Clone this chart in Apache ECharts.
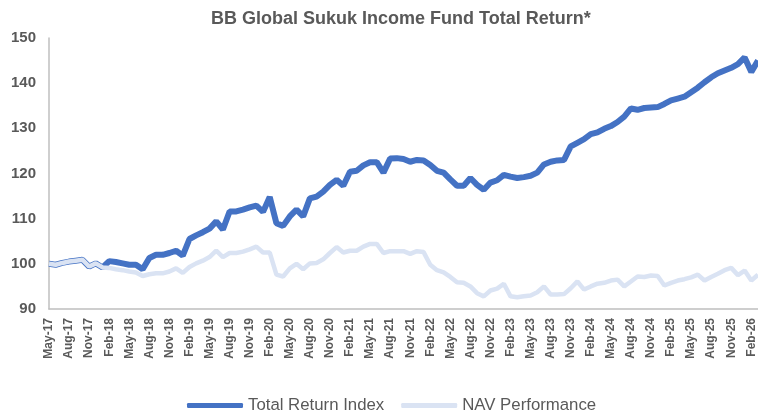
<!DOCTYPE html>
<html>
<head>
<meta charset="utf-8">
<script src="https://cdn.jsdelivr.net/npm/echarts@6/dist/echarts.min.js"></script>
<style>
  html, body { margin: 0; padding: 0; background: #fff; }
  #chart { width: 758px; height: 412px; }
</style>
</head>
<body>
<div id="chart"></div>
<script>
// month labels, May-17 .. Mar-26
const months = [
  'May-17', 'Jun-17', 'Jul-17', 'Aug-17', 'Sep-17', 'Oct-17', 'Nov-17', 'Dec-17',
  'Jan-18', 'Feb-18', 'Mar-18', 'Apr-18', 'May-18', 'Jun-18', 'Jul-18', 'Aug-18', 'Sep-18', 'Oct-18', 'Nov-18', 'Dec-18',
  'Jan-19', 'Feb-19', 'Mar-19', 'Apr-19', 'May-19', 'Jun-19', 'Jul-19', 'Aug-19', 'Sep-19', 'Oct-19', 'Nov-19', 'Dec-19',
  'Jan-20', 'Feb-20', 'Mar-20', 'Apr-20', 'May-20', 'Jun-20', 'Jul-20', 'Aug-20', 'Sep-20', 'Oct-20', 'Nov-20', 'Dec-20',
  'Jan-21', 'Feb-21', 'Mar-21', 'Apr-21', 'May-21', 'Jun-21', 'Jul-21', 'Aug-21', 'Sep-21', 'Oct-21', 'Nov-21', 'Dec-21',
  'Jan-22', 'Feb-22', 'Mar-22', 'Apr-22', 'May-22', 'Jun-22', 'Jul-22', 'Aug-22', 'Sep-22', 'Oct-22', 'Nov-22', 'Dec-22',
  'Jan-23', 'Feb-23', 'Mar-23', 'Apr-23', 'May-23', 'Jun-23', 'Jul-23', 'Aug-23', 'Sep-23', 'Oct-23', 'Nov-23', 'Dec-23',
  'Jan-24', 'Feb-24', 'Mar-24', 'Apr-24', 'May-24', 'Jun-24', 'Jul-24', 'Aug-24', 'Sep-24', 'Oct-24', 'Nov-24', 'Dec-24',
  'Jan-25', 'Feb-25', 'Mar-25', 'Apr-25', 'May-25', 'Jun-25', 'Jul-25', 'Aug-25', 'Sep-25', 'Oct-25', 'Nov-25', 'Dec-25',
  'Jan-26', 'Feb-26', 'Mar-26'
];

const totalReturn = [
  100.0, 99.8, 100.2, 100.5, 100.7, 100.9, 99.4, 100.1,
  99.2, 100.6, 100.4, 100.1, 99.8, 99.8, 98.8, 101.3, 102.0, 102.0, 102.4, 102.9,
  101.8, 105.5, 106.3, 107.0, 107.8, 109.4, 107.6, 111.6, 111.6, 112.0, 112.5, 112.9,
  111.5, 114.8, 109.0, 108.4, 110.5, 112.0, 110.5, 114.5, 114.9, 116.0, 117.5, 118.6,
  117.3, 120.4, 120.6, 121.8, 122.5, 122.5, 120.2, 123.3, 123.4, 123.2, 122.6, 123.0,
  122.9, 121.9, 120.6, 120.2, 118.7, 117.3, 117.3, 119.0, 117.5, 116.4, 118.0, 118.5,
  119.7, 119.3, 119.0, 119.2, 119.5, 120.2, 122.0, 122.6, 122.9, 123.0, 126.0, 126.8,
  127.6, 128.7, 129.1, 129.9, 130.5, 131.4, 132.6, 134.4, 134.1, 134.5, 134.6, 134.7,
  135.4, 136.2, 136.6, 137.0, 138.0, 139.0, 140.2, 141.3, 142.2, 142.8, 143.4, 144.2,
  145.7, 142.5, 145.0
];

const navPerformance = [
  100.0, 99.8, 100.2, 100.5, 100.7, 100.9, 99.4, 100.1,
  99.2, 99.1, 98.8, 98.6, 98.3, 98.1, 97.3, 97.7, 97.9, 97.9, 98.3, 99.0,
  98.0, 99.3, 100.1, 100.7, 101.5, 102.9, 101.5, 102.4, 102.4, 102.7, 103.2, 103.8,
  102.5, 102.5, 97.6, 97.2, 99.0, 100.0, 98.8, 100.1, 100.2, 101.0, 102.4, 103.7,
  102.5, 102.9, 102.9, 103.8, 104.4, 104.4, 102.4, 102.8, 102.8, 102.8, 102.2, 102.8,
  102.6, 99.8, 98.6, 98.1, 97.1, 95.9, 95.8, 95.0, 93.5, 92.8, 94.1, 94.5,
  95.6, 92.8, 92.6, 92.8, 93.0, 93.7, 95.0, 93.2, 93.2, 93.3, 94.6, 96.1,
  94.3, 95.0, 95.6, 95.8, 96.3, 96.5, 95.0, 96.1, 97.2, 97.1, 97.4, 97.3,
  95.2, 95.8, 96.3, 96.6, 97.0, 97.6, 96.3, 97.1, 97.8, 98.6, 99.1, 97.5,
  98.5, 96.3, 97.6
];

const labelColor = '#595959';
const axisColor = '#bfbfbf';

const chart = echarts.init(document.getElementById('chart'));
chart.setOption({
  animation: false,
  backgroundColor: '#fff',
  title: {
    text: 'BB Global Sukuk Income Fund Total Return*',
    left: 206,
    top: 5,
    textStyle: {
      fontFamily: 'Liberation Sans',
      fontWeight: 'bold',
      fontSize: 18,
      color: labelColor,
    },
  },
  legend: {
    data: ['Total Return Index', 'NAV Performance'],
    left: 182,
    top: 392,
    icon: 'roundRect',
    itemWidth: 56,
    itemHeight: 5,
    itemGap: 17,
    textStyle: {
      fontFamily: 'Liberation Sans',
      fontSize: 16.8,
      color: labelColor,
    },
  },
  grid: { left: 49, right: 0, top: 38, bottom: 103 },
  xAxis: {
    type: 'category',
    data: months,
    boundaryGap: false,
    axisLine: { lineStyle: { color: axisColor, width: 1.5 } },
    axisTick: { show: false },
    axisLabel: {
      interval: 2,
      rotate: 90,
      margin: 9,
      color: labelColor,
      fontFamily: 'Liberation Sans',
      fontWeight: 'bold',
      fontSize: 12,
    },
  },
  yAxis: {
    type: 'value',
    min: 90,
    max: 150,
    interval: 10,
    splitLine: { show: false },
    axisLine: { show: true, lineStyle: { color: axisColor, width: 1.5 } },
    axisTick: { show: false },
    axisLabel: {
      margin: 13,
      color: labelColor,
      fontFamily: 'Liberation Sans',
      fontWeight: 'bold',
      fontSize: 15,
    },
  },
  series: [
    {
      name: 'Total Return Index',
      type: 'line',
      data: totalReturn,
      showSymbol: false,
      z: 2,
      lineStyle: { width: 6, color: '#4472c4' },
      itemStyle: { color: '#4472c4' },
    },
    {
      name: 'NAV Performance',
      type: 'line',
      data: navPerformance,
      showSymbol: false,
      z: 3,
      lineStyle: { width: 4.5, color: '#dae3f3' },
      itemStyle: { color: '#dae3f3' },
    },
  ],
});
</script>
</body>
</html>
